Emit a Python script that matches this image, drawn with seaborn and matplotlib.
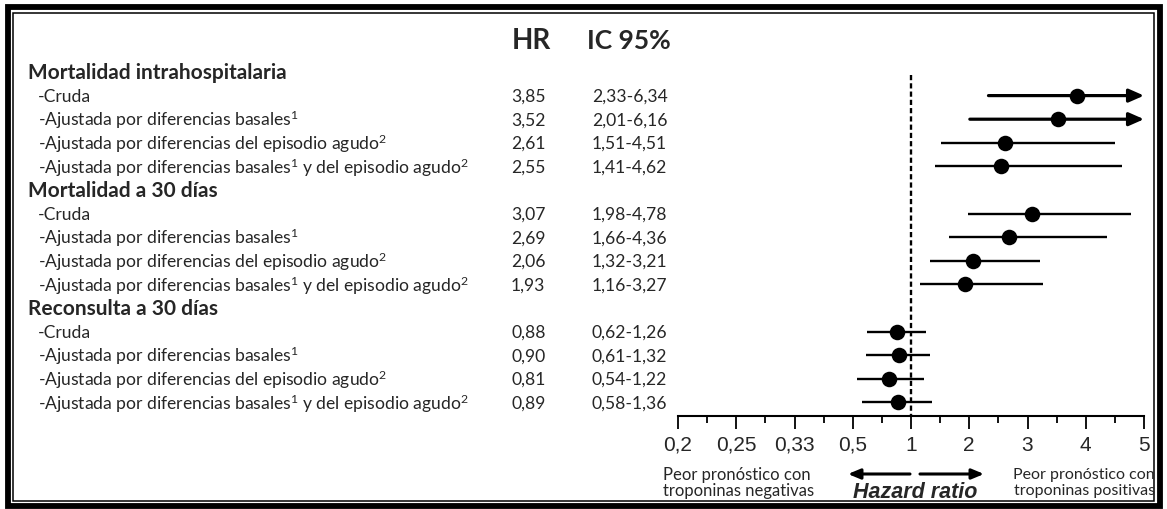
import numpy as np
import pandas as pd
import matplotlib
matplotlib.use("Agg")
import matplotlib.pyplot as plt
from matplotlib.patches import Rectangle
import seaborn as sns

# ---------------- data ----------------
groups = ["Mortalidad intrahospitalaria", "Mortalidad a 30 días", "Reconsulta a 30 días"]
sub_labels = [
    "-Cruda",
    "-Ajustada por diferencias basales$^1$",
    "-Ajustada por diferencias del episodio agudo$^2$",
    "-Ajustada por diferencias basales$^1$ y del episodio agudo$^2$",
]
hr = [3.85, 3.52, 2.61, 2.55, 3.07, 2.69, 2.06, 1.93, 0.88, 0.90, 0.81, 0.89]
ci_low = [2.33, 2.01, 1.51, 1.41, 1.98, 1.66, 1.32, 1.16, 0.62, 0.61, 0.54, 0.58]
ci_high = [6.34, 6.16, 4.51, 4.62, 4.78, 4.36, 3.21, 3.27, 1.26, 1.32, 1.22, 1.36]
tick_values = [0.2, 0.25, 0.33, 0.5, 1, 2, 3, 4, 5]
tick_labels = ["0,2", "0,25", "0,33", "0,5", "1", "2", "3", "4", "5"]
col_headers = ["HR", "IC 95%"]
left_note = ["Peor pronóstico con", "troponinas negativas"]
right_note = ["Peor pronóstico con", "troponinas positivas"]
axis_title = "Hazard ratio"

# ---------------- style ----------------
sns.set_theme(style="white")
plt.rcParams["font.family"] = ["Lato", "DejaVu Sans"]
plt.rcParams["mathtext.fontset"] = "custom"
plt.rcParams["mathtext.rm"] = "Lato"
plt.rcParams["mathtext.it"] = "Lato:italic"
plt.rcParams["mathtext.bf"] = "Lato:bold"

W, H = 1167, 510
fig = plt.figure(figsize=(W / 100, H / 100), dpi=100)

# background axes in pixel coordinates for the table text and frame
tax = fig.add_axes([0, 0, 1, 1])
tax.set_xlim(0, W)
tax.set_ylim(H, 0)
tax.axis("off")

# frame (thick outer + thin inner)
tax.add_patch(Rectangle((7.5, 8), W - 15, H - 8 - 3, fill=False, lw=4.2, ec="black"))
tax.add_patch(Rectangle((13, 13.5), W - 26.5, H - 13.5 - 8, fill=False, lw=1.1, ec="black"))

# layout of rows (line index -> pixel y)
y0, step = 73, 23.6
row_y = []
head_y = []
line = 0
for g in range(len(groups)):
    head_y.append(y0 + step * line)
    line += 1
    for s in range(len(sub_labels)):
        row_y.append(y0 + step * line)
        line += 1

fmt = lambda v: f"{v:.2f}".replace(".", ",")
fs_row = 12.6

# headers
tax.text(531, 41, col_headers[0], fontsize=20, fontweight="bold", ha="center", va="center")
tax.text(629, 41, col_headers[1], fontsize=19, fontweight="bold", ha="center", va="center")

for g, name in enumerate(groups):
    tax.text(28, head_y[g], name, fontsize=15, fontweight="bold", ha="left", va="center")
    for s, lab in enumerate(sub_labels):
        i = g * len(sub_labels) + s
        y = row_y[i]
        tax.text(38, y, lab, fontsize=fs_row, ha="left", va="center")
        tax.text(511, y, fmt(hr[i]), fontsize=fs_row, ha="left", va="center")
        tax.text(592, y, f"{fmt(ci_low[i])}-{fmt(ci_high[i])}", fontsize=fs_row, ha="left", va="center")

# ---------------- forest axes ----------------
x_left_px, x_right_px = 678, 1144
y_top_px, y_axis_px = 60, 417
ax = fig.add_axes([x_left_px / W, 1 - y_axis_px / H,
                   (x_right_px - x_left_px) / W, (y_axis_px - y_top_px) / H])
ax.patch.set_alpha(0)

knots = np.array(tick_values, dtype=float)
pos = np.arange(len(knots)) - 4.0


def forward(x):
    x = np.asarray(x, dtype=float)
    return np.interp(x, knots, pos)


def inverse(p):
    p = np.asarray(p, dtype=float)
    return np.interp(p, pos, knots)


ax.set_xscale("function", functions=(forward, inverse))
ax.set_xlim(tick_values[0], tick_values[-1])
ax.set_ylim(y_axis_px, y_top_px)

xmax = tick_values[-1]
df = pd.DataFrame({"hr": hr, "lo": ci_low, "hi": ci_high, "y": row_y})

# reference line at 1
ax.vlines(1, 76, y_axis_px, colors="black", lw=1.7, linestyles=(0, (2.2, 1.3)), zorder=1)

for _, r in df.iterrows():
    if r["hi"] > xmax:
        ax.annotate("", xy=(xmax, r["y"]), xytext=(r["lo"], r["y"]),
                    arrowprops=dict(arrowstyle="-|>,head_length=0.75,head_width=0.33",
                                    lw=2.3, color="black", shrinkA=0, shrinkB=0),
                    annotation_clip=False, zorder=2)
    else:
        ax.hlines(r["y"], r["lo"], r["hi"], colors="black", lw=1.7, zorder=2)

sns.scatterplot(data=df, x="hr", y="y", ax=ax, color="black", s=125,
                edgecolor="black", linewidth=0, zorder=3, legend=False)

for side in ["top", "left", "right"]:
    ax.spines[side].set_visible(False)
ax.spines["bottom"].set_linewidth(1.5)
ax.spines["bottom"].set_color("black")
ax.set_yticks([])
ax.set_xticks(tick_values)
ax.set_xticklabels(tick_labels, family="Liberation Sans", fontsize=15)
minor = inverse(pos[:-1] + 0.5)
ax.set_xticks(minor, minor=True)
ax.tick_params(axis="x", which="major", direction="out", length=9.5, width=1.3,
               color="black", pad=4, bottom=True)
ax.tick_params(axis="x", which="minor", direction="out", length=5, width=1.3,
               color="black", bottom=True)
ax.set_xlabel("")
ax.set_ylabel("")

# bottom annotations
for k, (ltxt, rtxt) in enumerate(zip(left_note, right_note)):
    yy = 475 + 16 * k
    tax.text(663, yy, ltxt, fontsize=12, ha="left", va="center")
    tax.text(1155, yy, rtxt, fontsize=11.5, ha="right", va="center")
tax.text(915, 493, axis_title, family="Liberation Sans", fontsize=15.5, fontweight="bold",
         fontstyle="italic", ha="center", va="center")
tax.annotate("", xy=(848, 475), xytext=(910, 475),
             arrowprops=dict(arrowstyle="-|>,head_length=0.6,head_width=0.25", lw=2.2,
                             color="black", shrinkA=0, shrinkB=0))
tax.annotate("", xy=(984, 475), xytext=(920, 475),
             arrowprops=dict(arrowstyle="-|>,head_length=0.6,head_width=0.25", lw=2.2,
                             color="black", shrinkA=0, shrinkB=0))

fig.savefig("out.png", dpi=100)
